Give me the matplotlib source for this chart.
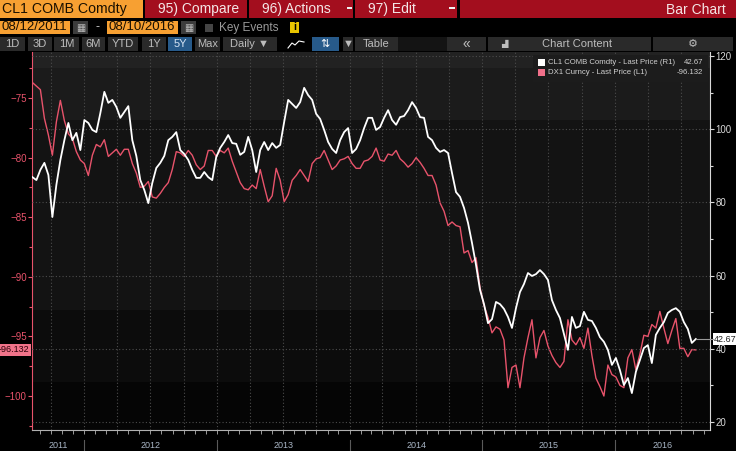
import numpy as np
import pandas as pd
import matplotlib
matplotlib.use('Agg')
import matplotlib.pyplot as plt
import matplotlib.dates as mdates
from matplotlib.ticker import MultipleLocator, FixedLocator, NullFormatter
from matplotlib.patches import Rectangle
from matplotlib.transforms import blended_transform_factory

plt.rcParams['font.family'] = ['Liberation Sans', 'DejaVu Sans']

W, H = 736, 451

start_date = '2011-08-12'
end_date = '2016-08-10'

cl1 = [86.9, 86.1, 88.9, 90.8, 87.5, 76.0, 84.8, 91.6, 97.0, 101.7,
       97.0, 99.0, 94.3, 102.5, 101.7, 99.8, 99.2, 104.4, 110.2, 107.2,
       108.0, 106.1, 103.1, 104.7, 106.3, 97.0, 92.7, 86.1, 83.4, 79.8,
       85.3, 89.4, 90.8, 92.7, 97.0, 97.9, 99.2, 94.3, 93.2, 91.6,
       88.9, 86.7, 86.7, 88.3, 86.9, 86.1, 92.4, 94.9, 96.5, 98.4,
       96.2, 96.0, 93.0, 93.8, 97.9, 94.3, 88.3, 94.3, 96.5, 94.3,
       96.2, 94.9, 95.7, 102.0, 108.0, 106.9, 105.8, 107.4, 111.3, 109.3,
       108.0, 104.2, 102.8, 99.8, 96.5, 94.6, 93.5, 97.0, 99.2, 100.3,
       93.5, 94.6, 97.0, 100.3, 103.1, 103.1, 99.8, 100.6, 103.1, 105.2,
       102.5, 101.2, 103.3, 103.6, 105.2, 107.4, 105.8, 103.3, 103.1, 97.9,
       97.0, 94.9, 93.8, 94.3, 93.5, 88.0, 82.8, 81.5, 78.5, 74.4,
       68.9, 62.9, 56.1, 52.2, 47.0, 48.1, 52.8, 52.2, 50.9, 48.7,
       45.7, 51.1, 55.5, 57.7, 60.7, 59.9, 60.4, 61.5, 60.4, 58.8,
       53.3, 50.6, 48.4, 44.0, 39.7, 48.7, 45.7, 46.2, 50.1, 47.9,
       47.6, 45.7, 43.2, 41.9, 39.7, 35.6, 37.5, 34.2, 30.1, 32.0,
       27.9, 33.7, 36.9, 40.2, 41.0, 36.1, 43.8, 45.7, 47.3, 49.8,
       50.6, 51.1, 50.1, 47.3, 45.4, 41.6, 42.67]

dx1 = [-73.7, -74.0, -74.3, -76.7, -78.1, -79.8, -77.0, -75.2, -76.9, -78.0,
       -78.4, -79.5, -80.2, -80.5, -81.5, -79.8, -78.9, -79.1, -78.5, -79.9,
       -79.6, -79.3, -79.8, -79.3, -79.3, -80.5, -81.3, -82.5, -82.4, -82.0,
       -83.3, -83.4, -83.0, -82.5, -82.1, -81.0, -79.5, -79.6, -79.9, -79.4,
       -79.8, -80.6, -81.0, -80.7, -79.4, -79.4, -79.9, -79.4, -79.6, -79.2,
       -80.3, -81.2, -82.1, -82.6, -82.7, -82.3, -82.6, -81.0, -82.4, -83.7,
       -83.2, -80.9, -81.9, -83.7, -83.1, -81.9, -81.5, -81.0, -81.5, -82.0,
       -80.5, -80.1, -80.0, -79.4, -80.2, -81.0, -80.7, -80.2, -80.1, -79.9,
       -80.5, -80.9, -80.9, -80.3, -80.2, -79.9, -79.2, -80.2, -80.3, -79.7,
       -79.8, -79.4, -80.1, -80.4, -80.8, -80.5, -80.0, -80.4, -80.9, -81.5,
       -81.5, -82.3, -83.8, -84.5, -85.7, -85.4, -85.7, -85.8, -88.0, -87.8,
       -88.8, -88.4, -90.9, -92.4, -93.4, -94.7, -94.2, -94.4, -95.3, -99.3,
       -97.6, -97.4, -99.3, -96.8, -95.1, -93.6, -96.8, -95.1, -94.5, -95.8,
       -96.6, -97.2, -97.6, -97.1, -93.6, -95.3, -95.7, -95.1, -96.0, -94.3,
       -96.6, -98.5, -99.2, -100.0, -97.4, -98.2, -98.4, -99.1, -99.3, -96.8,
       -96.1, -97.8, -96.5, -94.9, -95.0, -94.0, -94.3, -92.9, -94.3, -95.6,
       -94.5, -93.5, -96.0, -96.0, -96.7, -96.1, -96.132]

dates = pd.date_range(start_date, end_date, periods=len(cl1))

cl1_label = 'CL1 COMB Comdty - Last Price (R1)'
dx1_label = 'DX1 Curncy - Last Price (L1)'
cl1_last = cl1[-1]
dx1_last = dx1[-1]

left_ticks = [-75, -80, -85, -90, -95, -100]
right_ticks = [20, 40, 60, 80, 100, 120]
years = [2011, 2012, 2013, 2014, 2015, 2016]

RED = '#e8536b'
ORANGE = '#f7a032'
HDR_RED = '#a30e1e'
BTN = '#2a2a2a'
BLUE = '#275a8a'

fig = plt.figure(figsize=(W / 100, H / 100), dpi=100, facecolor='black')


def rect(x0, y0, x1, y1, color, z=1):
    fig.patches.append(Rectangle((x0 / W, 1 - y1 / H), (x1 - x0) / W, (y1 - y0) / H,
                                 transform=fig.transFigure, facecolor=color,
                                 edgecolor='none', zorder=z))


def txt(x, y, s, **kw):
    kw.setdefault('va', 'center')
    fig.text(x / W, 1 - y / H, s, **kw)


# ---------------- header ----------------
rect(0, 0, 143, 18, ORANGE)
txt(2, 9.5, 'CL1 COMB Comdty', color='#1a1000', fontsize=10.2)
for x0, x1, lab in [(145, 247, '95) Compare'), (249, 353, '96) Actions'),
                    (355, 457, '97) Edit'), (460, 736, '')]:
    rect(x0, 0, x1, 18, HDR_RED)
    if lab:
        txt(x0 + 13, 9.5, lab, color='#f4e6e6', fontsize=10)
txt(726, 9.5, 'Bar Chart', color='#f4e6e6', fontsize=10, ha='right')
rect(347, 7, 352, 9, '#f0f0f0', z=2)
rect(449, 7, 455, 9, '#f0f0f0', z=2)

rect(0, 21, 70, 34, ORANGE)
txt(1, 27.5, '08/12/2011', color='#1a1000', fontsize=9.5)
rect(73, 21, 88, 34, '#3c3c3c')
txt(80.5, 27.5, '▦', color='#bbbbbb', fontsize=7, ha='center')
txt(98, 27.5, '-', color='#cccccc', fontsize=9, ha='center')
rect(107, 21, 178, 34, ORANGE)
txt(108, 27.5, '08/10/2016', color='#1a1000', fontsize=9.5)
rect(181, 21, 196, 34, '#3c3c3c')
txt(188.5, 27.5, '▦', color='#bbbbbb', fontsize=7, ha='center')
rect(205, 24, 213, 32, '#454545')
txt(219, 27.5, 'Key Events', color='#9a9a9a', fontsize=8.5)
rect(290, 22, 299, 33, '#e8c400')
txt(294.5, 27.5, 'i', color='#000000', fontsize=7.5, ha='center', weight='bold')

buttons = [(0, 25, '1D'), (28, 52, '3D'), (54, 79, '1M'), (82, 105, '6M'),
           (108, 138, 'YTD'), (142, 166, '1Y'), (168, 192, '5Y'), (195, 220, 'Max'),
           (223, 277, 'Daily ▼'), (343, 353, '▼'), (355, 398, 'Table'),
           (447, 486, '«'), (488, 651, 'Chart Content'), (653, 733, '⚙')]
for x0, x1, lab in buttons:
    col = BLUE if lab == '5Y' else BTN
    rect(x0, 37, x1, 51, col)
    tc = '#d6e4f4' if lab == '5Y' else '#bdbdbd'
    xc = (x0 + x1) / 2 + (8 if lab == 'Chart Content' else 0)
    txt(xc, 44, lab, color=tc, fontsize=8 if lab != '«' else 10, ha='center')
rect(398, 37, 447, 51, '#141414')
rect(283, 37, 309, 51, '#000000')
fig.lines.append(plt.Line2D([288 / W, 292 / W, 295 / W, 299 / W, 304 / W],
                            [1 - 48 / H, 1 - 43 / H, 1 - 45 / H, 1 - 41 / H, 1 - 42 / H],
                            transform=fig.transFigure, color='white', lw=0.8))
rect(312, 37, 339, 51, BLUE)
txt(325.5, 44, '⇅', color='white', fontsize=8, ha='center')
txt(504, 44, '▟', color='#bdbdbd', fontsize=6, ha='center')

# ---------------- chart ----------------
ax = fig.add_axes([32.4 / W, (H - 430) / H, (710 - 32.4) / W, 378 / H])
ax.set_facecolor('#131313')
bands = [(0.9577, 1.0, '#222222'), (0.8201, 0.9577, '#1b1b1b'),
         (0.3175, 0.8201, '#131313'), (0.127, 0.3175, '#0c0c0c'), (0.0, 0.127, '#050505')]
for b0, b1, c in bands:
    ax.add_patch(Rectangle((0, b0), 1, b1 - b0, transform=ax.transAxes,
                           facecolor=c, edgecolor='none', zorder=0))

ax.plot(dates, dx1, color=RED, lw=1.0, zorder=3)
ax.set_xlim(pd.Timestamp('2011-08-12'), pd.Timestamp('2016-09-18'))
ax.set_ylim(-102.85, -71.14)

ax2 = ax.twinx()
ax2.plot(dates, cl1, color='white', lw=1.3, zorder=3)
ax2.set_ylim(17.81, 121.09)

for s in ['top', 'right']:
    ax.spines[s].set_visible(False)
for s in ['top', 'left', 'bottom']:
    ax2.spines[s].set_visible(False)
ax.spines['left'].set_color(RED)
ax.spines['bottom'].set_color('#b0b0b0')
ax2.spines['right'].set_color('#d8d8d8')

ax.xaxis.set_major_locator(mdates.MonthLocator(bymonth=[1, 4, 7, 10]))
ax.xaxis.set_minor_locator(mdates.MonthLocator())
ax.xaxis.set_major_formatter(NullFormatter())
ax.tick_params(axis='x', which='both', colors='#9a9a9a', length=3, width=0.7)
ax.xaxis.grid(True, color='#4c4c4c', linestyle=(0, (1, 2)), lw=0.8)

ax.yaxis.set_major_locator(FixedLocator(left_ticks))
ax.yaxis.set_minor_locator(MultipleLocator(2.5))
ax.tick_params(axis='y', which='major', colors=RED, labelsize=7, length=3, width=0.8, pad=1)
ax.tick_params(axis='y', which='minor', colors=RED, length=2, width=0.8)

ax2.yaxis.set_major_locator(FixedLocator(right_ticks))
ax2.yaxis.set_minor_locator(MultipleLocator(10))
ax2.tick_params(axis='y', which='major', colors='#d8d8d8', labelsize=7, length=3, width=0.8, pad=1)
ax2.tick_params(axis='y', which='minor', colors='#d8d8d8', length=2, width=0.8)
ax2.yaxis.grid(True, color='#4c4c4c', linestyle=(0, (1, 2)), lw=0.8)
ax.set_axisbelow(True)

# year labels under the axis
bt = blended_transform_factory(ax.transData, ax.transAxes)
x_lo, x_hi = ax.get_xlim()
for yr in years:
    a = max(mdates.date2num(pd.Timestamp(f'{yr}-01-01')), x_lo)
    b = min(mdates.date2num(pd.Timestamp(f'{yr + 1}-01-01')), x_hi)
    ax.text((a + b) / 2, -0.04, str(yr), transform=bt, ha='center', va='center',
            color='#a9b6c6', fontsize=6.5)
    if yr > years[0]:
        ax.plot([a, a], [-0.027, -0.06], transform=bt, color='#5a5a5a', lw=0.8, clip_on=False)

# last price markers
ax2.plot([dates[-1], pd.Timestamp('2016-09-26')], [cl1_last, cl1_last],
         color='#9a9a9a', lw=0.8, clip_on=False, zorder=4)
ax2.annotate(f'{cl1_last:.2f}', xy=(1.0, cl1_last), xycoords=('axes fraction', 'data'),
             xytext=(3, 0), textcoords='offset points', ha='left', va='center',
             fontsize=6.5, color='#202020', annotation_clip=False,
             bbox=dict(boxstyle='square,pad=0.15', fc='white', ec='none'))
ax.annotate(f'{dx1_last:.3f}', xy=(0.0, dx1_last), xycoords=('axes fraction', 'data'),
            xytext=(-2, 0), textcoords='offset points', ha='right', va='center',
            fontsize=6.5, color='#2a0008', annotation_clip=False,
            bbox=dict(boxstyle='square,pad=0.15', fc='#f0738a', ec='none'))

# legend panel
rect(533, 55, 708, 82, '#1c1c1c', z=2)
rect(538, 59, 545, 66, 'white', z=3)
rect(538, 69, 545, 76, '#f0708a', z=3)
txt(548, 62.5, cl1_label, color='#d0d0d0', fontsize=5.6)
txt(548, 72.5, dx1_label, color='#d0d0d0', fontsize=5.6)
txt(703, 62.5, f'{cl1_last:.2f}', color='#d0d0d0', fontsize=5.6, ha='right')
txt(703, 72.5, f'{dx1_last:.3f}', color='#d0d0d0', fontsize=5.6, ha='right')

fig.savefig('out.png', dpi=100, facecolor='black')
